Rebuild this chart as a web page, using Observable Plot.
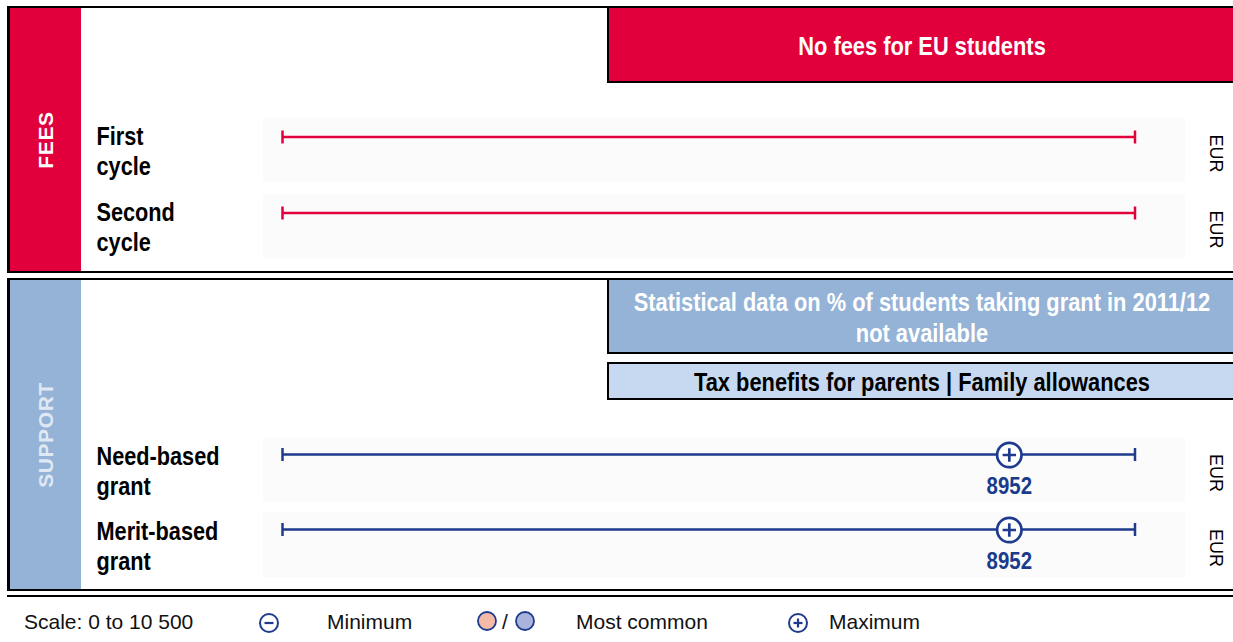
<!DOCTYPE html>
<html>
<head>
<meta charset="utf-8">
<script src="https://cdn.jsdelivr.net/npm/d3@7"></script>
<script src="https://cdn.jsdelivr.net/npm/@observablehq/plot@0.6"></script>
<style>
  body { margin: 0; background: #fff; }
  #chart { position: relative; width: 1233px; height: 642px; overflow: hidden; background: #fff;
           font-family: "Liberation Sans", Arial, sans-serif; }
  .abs { position: absolute; box-sizing: border-box; }
  .panel { border-top: 2px solid #000; border-bottom: 2px solid #000; border-left: 3px solid #000; }
  .box { border-left: 2px solid #000; border-bottom: 2px solid #000; overflow: hidden; }
  .box span { position: absolute; left: 50%; top: 50%; white-space: nowrap; text-align: center;
              font-weight: bold; font-size: 26px; transform: translate(-50%, -50%) scaleX(0.84); }
  .side { display: flex; align-items: center; justify-content: center; }
  .side span { transform: rotate(-90deg); white-space: nowrap; font-weight: bold; font-size: 21px;
               letter-spacing: 0.6px; }
  .leg { position: absolute; top: 611px; font-size: 21px; line-height: 21px; color: #111; white-space: nowrap; }
  .plot { position: absolute; left: 0; }
</style>
</head>
<body>
<div id="chart">
  <!-- FEES panel -->
  <div class="abs panel" style="left:7px;top:6px;width:1240px;height:267px;"></div>
  <div class="abs side" style="left:10px;top:8px;width:71px;height:263px;background:#e1003c;"><span style="color:#fff;">FEES</span></div>
  <div class="abs box" style="left:607px;top:8px;width:628px;height:75px;background:#e1003c;color:#fff;"><span id="feeBanner" style="top:calc(50% + 1.5px);"></span></div>

  <!-- SUPPORT panel -->
  <div class="abs panel" style="left:7px;top:278px;width:1240px;height:313px;"></div>
  <div class="abs side" style="left:10px;top:280px;width:71px;height:309px;background:#95b3d7;"><span style="color:#dfe8f3;">SUPPORT</span></div>
  <div class="abs box" style="left:607px;top:280px;width:628px;height:74px;background:#95b3d7;color:#fff;"><span id="statBox" style="line-height:31px;top:calc(50% + 1.5px);"></span></div>
  <div class="abs box" style="left:607px;top:362px;width:628px;height:38px;background:#c6d9f1;color:#000;border-top:2px solid #000;"><span id="taxBox" style="top:calc(50% + 0.5px);"></span></div>

  <div class="abs" style="left:7px;top:595px;width:1240px;height:2px;background:#000;"></div>

  <div id="feesPlot" class="plot" style="top:118px;"></div>
  <div id="supportPlot" class="plot" style="top:437px;"></div>

  <!-- legend -->
  <div class="leg" style="left:24px;" id="legScale"></div>
  <svg class="abs" style="left:258px;top:612px;" width="22" height="22"><circle cx="11" cy="11" r="9" fill="#fff" stroke="#1f3b8e" stroke-width="2"/><line x1="6.5" y1="11" x2="15.5" y2="11" stroke="#1f3b8e" stroke-width="2.2"/></svg>
  <div class="leg" style="left:327px;" id="legMin"></div>
  <svg class="abs" style="left:476px;top:610px;" width="60" height="22"><circle cx="11" cy="11" r="9" fill="#f4b9a7" stroke="#1f3b8e" stroke-width="1.8"/><circle cx="49" cy="11" r="9" fill="#a9b3db" stroke="#1f3b8e" stroke-width="1.8"/></svg>
  <div class="leg" style="left:502px;">/</div>
  <div class="leg" style="left:576px;" id="legCommon"></div>
  <svg class="abs" style="left:787px;top:612px;" width="22" height="22"><circle cx="11" cy="11" r="9" fill="#fff" stroke="#1f3b8e" stroke-width="2"/><line x1="6.5" y1="11" x2="15.5" y2="11" stroke="#1f3b8e" stroke-width="2.2"/><line x1="11" y1="6.5" x2="11" y2="15.5" stroke="#1f3b8e" stroke-width="2.2"/></svg>
  <div class="leg" style="left:829px;" id="legMax"></div>
</div>

<script>
// ---------- data ----------
const scaleDomain = [0, 10500];
const feeRows = ["First\ncycle", "Second\ncycle"];
const feeMaxima = [null, null];            // no fees: no markers
const supportRows = ["Need-based\ngrant", "Merit-based\ngrant"];
const supportMaxima = [8952, 8952];
const units = ["EUR", "EUR"];
const feeBannerText = "No fees for EU students";
const statText = ["Statistical data on % of students taking grant in 2011/12", "not available"];
const taxText = "Tax benefits for parents | Family allowances";
const legendTexts = ["Scale: 0 to 10 500", "Minimum", "Most common", "Maximum"];

// ---------- colours ----------
const RED = "#e1003c";
const NAVY = "#1f3b8e";

document.getElementById("feeBanner").textContent = feeBannerText;
document.getElementById("statBox").innerHTML = statText.join("<br>");
document.getElementById("taxBox").textContent = taxText;
["legScale", "legMin", "legCommon", "legMax"].forEach((id, i) => document.getElementById(id).textContent = legendTexts[i]);

// circle with a plus inside (maximum marker)
const circlePlus = {
  draw(ctx, size) {
    const r = Math.sqrt(size / Math.PI);
    ctx.moveTo(r, 0);
    ctx.arc(0, 0, r, 0, 2 * Math.PI);
    const a = r * 0.55;
    ctx.moveTo(-a, 0); ctx.lineTo(a, 0);
    ctx.moveTo(0, -a); ctx.lineTo(0, a);
  }
};

// horizontally condense un-rotated text (narrow bold look)
function condense(svg, k) {
  d3.select(svg).selectAll("text").each(function () {
    const t = this.getAttribute("transform");
    if (t && t.includes("rotate")) return;
    if (t) this.setAttribute("transform", `${t} scale(${k},1)`);
    else {
      const x = +this.getAttribute("x") || 0;
      this.setAttribute("transform", `translate(${x},0) scale(${k},1) translate(${-x},0)`);
    }
  });
  return svg;
}

function panelPlot(rows, maxima, color, height, paddingInner, lineOffset) {
  const data = rows.map((row, i) => ({row, lo: scaleDomain[0], hi: scaleDomain[1], max: maxima[i], unit: units[i]}));
  const ends = data.flatMap(d => [{row: d.row, v: d.lo}, {row: d.row, v: d.hi}]);
  const markers = data.filter(d => d.max != null);
  const bw = height * (1 - paddingInner) / (2 - paddingInner);
  const svg = Plot.plot({
    width: 1233, height,
    marginTop: 0, marginBottom: 0, marginLeft: 263, marginRight: 48,
    style: {background: "none", fontFamily: '"Liberation Sans", Arial, sans-serif', overflow: "visible"},
    x: {domain: scaleDomain, range: [282, 1134.5], axis: null},
    y: {type: "band", domain: rows, paddingInner, paddingOuter: 0, axis: null},
    marks: [
      Plot.cell(data, {y: "row", fill: "#fbfbfb"}),
      Plot.barX(data, {x1: "lo", x2: "hi", y: "row", fill: color,
        insetTop: lineOffset - 1.25, insetBottom: bw - lineOffset - 1.25}),
      Plot.tickX(ends, {x: "v", y: "row", stroke: color, strokeWidth: 2.5,
        insetTop: lineOffset - 6.5, insetBottom: bw - lineOffset - 6.5}),
      Plot.dot(markers, {x: "max", y: "row", r: 12.2, symbol: circlePlus, fill: "white",
        stroke: NAVY, strokeWidth: 2.7, dy: lineOffset - bw / 2}),
      Plot.text(markers, {x: "max", y: "row", text: d => String(d.max), dy: 16,
        fill: "#1a3a8a", fontSize: 24.5, fontWeight: "bold"}),
      Plot.text(data, {y: "row", text: "row", frameAnchor: "left", textAnchor: "start", dx: 96 - 263,
        fontSize: 26, fontWeight: "bold", lineHeight: 1.15, fill: "#000"}),
      Plot.text(data, {y: "row", text: "unit", frameAnchor: "right", textAnchor: "middle", dx: 30, dy: 3, rotate: 90,
        fontSize: 18, fill: "#000"})
    ]
  });
  return condense(svg, 0.835);
}

document.getElementById("feesPlot").append(panelPlot(feeRows, feeMaxima, RED, 140, 12 / 76, 19));
document.getElementById("supportPlot").append(panelPlot(supportRows, supportMaxima, NAVY, 140, 10 / 75, 17.5));
</script>
</body>
</html>
